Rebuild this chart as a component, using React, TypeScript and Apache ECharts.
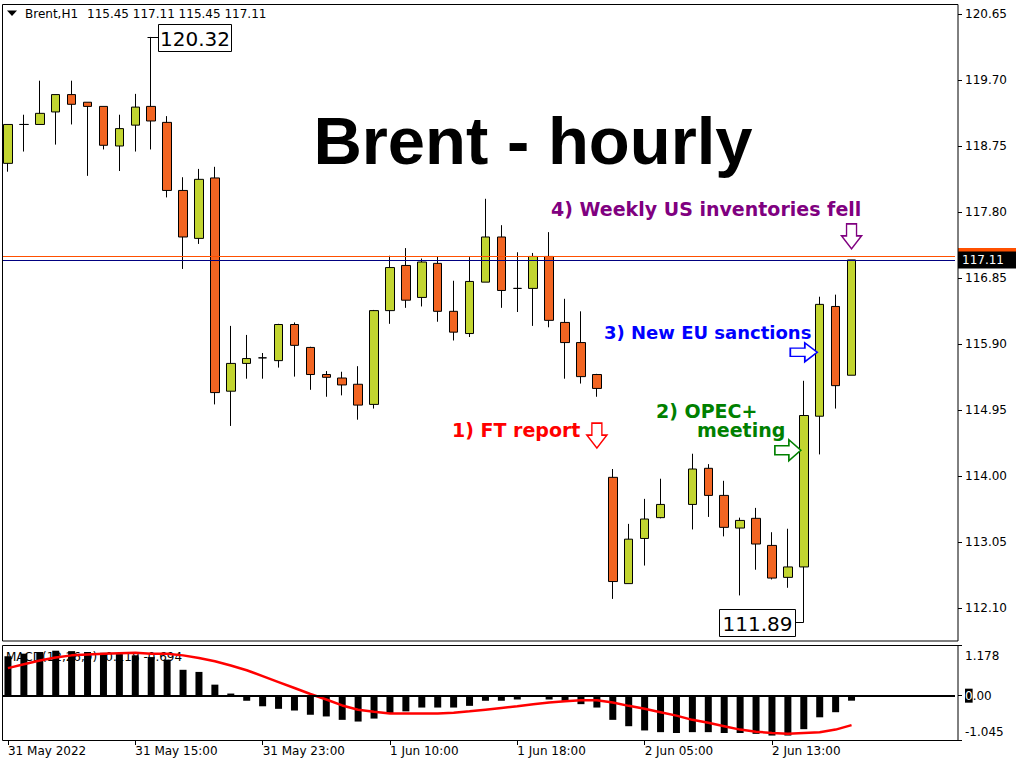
import React, { useEffect, useRef } from 'react';
import * as echarts from 'echarts';

const categories: string[] = [
  '31 May 07:00', '31 May 08:00', '31 May 09:00', '31 May 10:00', '31 May 11:00', '31 May 12:00',
  '31 May 13:00', '31 May 14:00', '31 May 15:00', '31 May 16:00', '31 May 17:00', '31 May 18:00',
  '31 May 19:00', '31 May 20:00', '31 May 21:00', '31 May 22:00', '31 May 23:00',
  '1 Jun 03:00', '1 Jun 04:00', '1 Jun 05:00', '1 Jun 06:00', '1 Jun 07:00', '1 Jun 08:00',
  '1 Jun 09:00', '1 Jun 10:00', '1 Jun 11:00', '1 Jun 12:00', '1 Jun 13:00', '1 Jun 14:00',
  '1 Jun 15:00', '1 Jun 16:00', '1 Jun 17:00', '1 Jun 18:00', '1 Jun 19:00', '1 Jun 20:00',
  '1 Jun 21:00', '1 Jun 22:00', '1 Jun 23:00',
  '2 Jun 03:00', '2 Jun 04:00', '2 Jun 05:00', '2 Jun 06:00', '2 Jun 07:00', '2 Jun 08:00',
  '2 Jun 09:00', '2 Jun 10:00', '2 Jun 11:00', '2 Jun 12:00', '2 Jun 13:00', '2 Jun 14:00',
  '2 Jun 15:00', '2 Jun 16:00', '2 Jun 17:00', '2 Jun 18:00',
  ' ', '  ', '   ', '    ', '     ', '      ',
];

const opens: (number | null)[] = [
  118.50, 119.06, 119.06, 119.24, 119.49, 119.38, 119.32, 118.75, 119.05, 119.32,
  119.09, 118.11, 117.42, 118.29, 115.22, 115.62, 115.70, 115.66, 116.18, 115.85,
  115.46, 115.41, 115.32, 115.03, 116.38, 117.03, 116.57, 117.06, 116.37, 116.05,
  116.79, 117.44, 116.70, 116.70, 117.16, 116.21, 115.92, 115.46, 113.98, 112.45,
  113.10, 113.40, null, 113.59, 114.11, 113.72, 113.25, 113.39, 113.00, 112.54,
  112.69, 114.86, 116.44, 115.45,
];
const highs: (number | null)[] = [
  119.06, 119.20, 119.69, 119.49, 119.69, 119.38, 119.32, 119.20, 119.50, 120.32,
  119.18, 118.30, 118.42, 118.45, 116.16, 116.03, 115.77, 116.19, 116.21, 115.86,
  115.51, 115.50, 115.58, 116.39, 117.17, 117.28, 117.13, 117.16, 116.81, 117.15,
  117.99, 117.61, 117.22, 117.21, 117.51, 116.55, 116.37, 115.47, 114.10, 113.31,
  113.67, 113.96, null, 114.32, 114.17, 113.93, 113.40, 113.54, 113.19, 113.24,
  115.37, 116.58, 116.61, 117.11,
];
const lows: (number | null)[] = [
  118.38, 118.67, 119.06, 118.77, 119.06, 118.32, 118.70, 118.39, 118.67, 118.70,
  118.01, 116.98, 117.34, 115.03, 114.72, 115.40, 115.40, 115.56, 115.43, 115.24,
  115.14, 115.16, 114.81, 114.97, 116.19, 116.42, 116.44, 116.22, 115.95, 116.00,
  116.79, 116.42, 116.36, 116.16, 116.14, 115.40, 115.33, 115.14, 112.23, 112.45,
  112.71, 113.39, null, 113.23, 113.41, 113.13, 112.28, 112.65, 112.51, 112.39,
  111.89, 114.31, 114.97, 115.45,
];
const closes: (number | null)[] = [
  119.06, 119.06, 119.22, 119.49, 119.35, 119.32, 118.76, 119.00, 119.31, 119.11,
  118.11, 117.44, 118.27, 115.20, 115.62, 115.69, 115.70, 116.18, 115.88, 115.46,
  115.42, 115.31, 115.02, 116.38, 117.00, 116.53, 117.08, 116.37, 116.07, 116.80,
  117.44, 116.67, 116.70, 117.16, 116.24, 115.92, 115.43, 115.26, 112.48, 113.09,
  113.38, 113.59, null, 114.10, 113.72, 113.26, 113.36, 113.02, 112.53, 112.69,
  114.87, 116.47, 115.30, 117.11,
];

const macdMain: number[] = [
  0.93, 0.99, 1.03, 1.06, 1.05, 1.03, 1.01, 0.98, 0.95, 0.91,
  0.85, 0.61, 0.56, 0.26, 0.05, -0.12, -0.25, -0.31, -0.35, -0.45,
  -0.49, -0.57, -0.61, -0.54, -0.41, -0.37, -0.28, -0.28, -0.28, -0.24,
  -0.12, -0.12, -0.09, -0.03, -0.09, -0.12, -0.20, -0.28, -0.57, -0.72,
  -0.82, -0.86, -0.88, -0.86, -0.86, -0.88, -0.88, -0.90, -0.94, -0.94,
  -0.79, -0.51, -0.39, -0.118,
];
const macdSignal: number[] = [
  0.65, 0.74, 0.83, 0.90, 0.95, 0.97, 0.99, 1.00, 1.01, 0.99,
  0.99, 0.95, 0.89, 0.81, 0.71, 0.60, 0.46, 0.32, 0.18, 0.04,
  -0.09, -0.23, -0.33, -0.38, -0.42, -0.42, -0.42, -0.42, -0.40, -0.37,
  -0.33, -0.29, -0.25, -0.20, -0.16, -0.13, -0.11, -0.11, -0.16, -0.24,
  -0.31, -0.39, -0.47, -0.57, -0.64, -0.72, -0.80, -0.85, -0.88, -0.90,
  -0.88, -0.86, -0.80, -0.694,
];

const priceTicks: number[] = [112.10, 113.05, 114.00, 114.95, 115.90, 116.85, 117.80, 118.75, 119.70, 120.65];
const macdTicks: number[] = [-1.045, 0, 1.178];
const xLabelFirst = '31 May 2022';
const bidPrice = 117.11;
const askPrice = 117.16;

const GREEN = '#c2d530';
const ORANGE = '#f26522';
const FONT = "'DejaVu Sans', Verdana, sans-serif";

const DOWN_ARROW = 'path://M5,0L15,0L15,12L20,12L10,25L0,12L5,12Z';
const RIGHT_ARROW = 'path://M0,6L14,6L14,0L26,10.5L14,21L14,15L0,15Z';

export default function App() {
  const ref = useRef<HTMLDivElement>(null);

  useEffect(() => {
    if (!ref.current) return;
    const chart = echarts.init(ref.current, null, { renderer: 'svg' });

    const ohlc = opens.map((o, i) =>
      o == null ? ['-', '-', '-', '-'] : [o, closes[i], lows[i], highs[i]]
    );
    const lastBar = opens.length - 1;
    const showTick = (idx: number) => idx % 8 === 0 && idx <= lastBar;

    const annot = (text: string, x: number, y: number, color: string, size: number) => ({
      type: 'text',
      x,
      y,
      z: 60,
      style: {
        text,
        fill: color,
        font: `bold ${size}px ${FONT}`,
        textAlign: 'left',
        textVerticalAlign: 'middle',
      },
    });

    const option: any = {
      animation: false,
      backgroundColor: '#ffffff',
      grid: [
        { left: -5, top: 4, width: 960, height: 637 },
        { left: -5, top: 645.7, width: 960, height: 94.3 },
      ],
      xAxis: [
        {
          gridIndex: 0,
          type: 'category',
          data: categories,
          axisLine: { show: false, onZero: false },
          axisTick: { show: false },
          axisLabel: { show: false },
          splitLine: { show: false },
        },
        {
          gridIndex: 1,
          type: 'category',
          data: categories,
          position: 'bottom',
          axisLine: { show: false, onZero: false },
          axisTick: {
            show: true,
            interval: showTick,
            alignWithLabel: true,
            length: 5,
            lineStyle: { color: '#000', width: 1 },
          },
          axisLabel: {
            interval: showTick,
            align: 'left',
            margin: 5,
            color: '#000',
            fontFamily: FONT,
            fontSize: 12,
            formatter: (v: string, idx: number) => (idx === 0 ? xLabelFirst : v.trim()),
          },
          splitLine: { show: false },
        },
      ],
      yAxis: [
        {
          gridIndex: 0,
          type: 'value',
          position: 'right',
          offset: 3,
          min: 111.624,
          max: 120.794,
          scale: true,
          splitLine: { show: false },
          axisLine: { show: false },
          axisTick: {
            show: true,
            length: 4,
            customValues: priceTicks,
            lineStyle: { color: '#000' },
          },
          axisLabel: {
            customValues: priceTicks,
            margin: 7,
            color: '#000',
            fontFamily: FONT,
            fontSize: 12,
            formatter: (v: number) => v.toFixed(2),
          },
        },
        {
          gridIndex: 1,
          type: 'value',
          position: 'right',
          offset: 3,
          min: -1.045,
          max: 1.178,
          splitLine: { show: false },
          axisLine: { show: false },
          axisTick: {
            show: true,
            length: 4,
            customValues: macdTicks,
            lineStyle: { color: '#000' },
          },
          axisLabel: {
            customValues: macdTicks,
            margin: 7,
            color: '#000',
            fontFamily: FONT,
            fontSize: 12,
            formatter: (v: number) => {
              if (Math.abs(v) < 1e-9) return '{b|0}{n|.00}';
              if (v > 0) return '{t|' + v.toFixed(3) + '}';
              return '{u|' + v.toFixed(3) + '}';
            },
            rich: {
              b: { backgroundColor: '#000', color: '#fff', fontFamily: FONT, fontSize: 12, padding: [1, 0, 1, 0] },
              n: { color: '#000', fontFamily: FONT, fontSize: 12 },
              t: { color: '#000', fontFamily: FONT, fontSize: 12, padding: [20, 0, 0, 0] },
              u: { color: '#000', fontFamily: FONT, fontSize: 12, padding: [0, 0, 16, 0] },
            },
          },
        },
      ],
      series: [
        {
          type: 'candlestick',
          xAxisIndex: 0,
          yAxisIndex: 0,
          data: ohlc,
          barWidth: 9,
          itemStyle: {
            color: GREEN,
            color0: ORANGE,
            borderColor: '#000',
            borderColor0: '#000',
            borderColorDoji: '#000',
            borderWidth: 1,
          },
          markLine: {
            silent: true,
            symbol: ['none', 'none'],
            animation: false,
            data: [
              {
                yAxis: askPrice,
                lineStyle: { color: '#ff5000', width: 1, type: 'solid' },
                label: {
                  show: true,
                  position: 'end',
                  distance: 3,
                  formatter: ' ',
                  backgroundColor: '#ff5000',
                  width: 50,
                  height: 13,
                  lineHeight: 13,
                  fontSize: 12,
                  padding: [2, 4, 2, 4],
                },
              },
              {
                yAxis: bidPrice,
                lineStyle: { color: '#000080', width: 1, type: 'solid' },
                label: {
                  show: true,
                  position: 'end',
                  distance: 3,
                  formatter: bidPrice.toFixed(2),
                  backgroundColor: '#000',
                  color: '#fff',
                  fontFamily: FONT,
                  fontSize: 12,
                  width: 50,
                  height: 13,
                  lineHeight: 13,
                  padding: [2, 4, 2, 4],
                },
              },
            ],
          },
          markPoint: {
            silent: true,
            symbolKeepAspect: false,
            label: { show: false },
            data: [
              {
                coord: [categories[53], 117.45],
                symbol: DOWN_ARROW,
                symbolSize: [20, 25],
                itemStyle: { color: '#fff', borderColor: '#800080', borderWidth: 1.5 },
              },
              {
                coord: [categories[37], 114.58],
                symbol: DOWN_ARROW,
                symbolSize: [20, 25],
                itemStyle: { color: '#fff', borderColor: '#ff0000', borderWidth: 1.5 },
              },
              {
                coord: [categories[49], 114.37],
                symbol: RIGHT_ARROW,
                symbolSize: [26, 21],
                itemStyle: { color: '#fff', borderColor: '#008000', borderWidth: 1.5 },
              },
              {
                coord: [categories[50], 115.78],
                symbol: RIGHT_ARROW,
                symbolSize: [27, 19],
                itemStyle: { color: '#fff', borderColor: '#0000ff', borderWidth: 1.5 },
              },
            ],
          },
        },
        {
          type: 'bar',
          xAxisIndex: 1,
          yAxisIndex: 1,
          data: macdMain,
          barWidth: 7,
          itemStyle: { color: '#000' },
          z: 2,
          markLine: {
            silent: true,
            symbol: ['none', 'none'],
            animation: false,
            label: { show: false },
            lineStyle: { color: '#000', width: 2, type: 'solid' },
            data: [{ yAxis: 0 }],
          },
        },
        {
          type: 'line',
          xAxisIndex: 1,
          yAxisIndex: 1,
          data: macdSignal,
          symbol: 'none',
          lineStyle: { color: '#ff0000', width: 2.5 },
          itemStyle: { color: '#ff0000' },
          z: 3,
        },
      ],
      graphic: [
        { type: 'rect', z: 50, shape: { x: 0, y: 0, width: 2, height: 768 }, style: { fill: '#fff' } },
        {
          type: 'rect', z: 51,
          shape: { x: 2.5, y: 4.5, width: 955.5, height: 636.5 },
          style: { fill: 'none', stroke: '#000', lineWidth: 1 },
        },
        {
          type: 'rect', z: 51,
          shape: { x: 2.5, y: 645.5, width: 955.5, height: 95 },
          style: { fill: 'none', stroke: '#000', lineWidth: 1 },
        },
        {
          type: 'polygon', z: 60,
          shape: { points: [[7, 10.5], [17, 10.5], [12, 16]] },
          style: { fill: '#000' },
        },
        {
          type: 'text', x: 25, y: 14, z: 60,
          style: { text: 'Brent,H1', fill: '#000', font: `12px ${FONT}`, textAlign: 'left', textVerticalAlign: 'middle' },
        },
        {
          type: 'text', x: 87, y: 14, z: 60,
          style: { text: '115.45 117.11 115.45 117.11', fill: '#000', font: `12px ${FONT}`, textAlign: 'left', textVerticalAlign: 'middle' },
        },
        {
          type: 'text', x: 533, y: 140, z: 60,
          style: {
            text: 'Brent - hourly', fill: '#000',
            font: "bold 67px 'Liberation Sans', Arial, sans-serif",
            textAlign: 'center', textVerticalAlign: 'middle',
          },
        },
        annot('4) Weekly US inventories fell', 551, 209, '#800080', 19),
        annot('3) New EU sanctions', 604, 332, '#0000ff', 18),
        annot('2) OPEC+', 656, 411, '#008000', 19),
        annot('meeting', 697, 430, '#008000', 19),
        annot('1) FT report', 452, 430, '#ff0000', 19),
        // high label
        {
          type: 'line', z: 60,
          shape: { x1: 147.5, y1: 37.5, x2: 158.5, y2: 37.5 },
          style: { stroke: '#000', lineWidth: 1 },
        },
        {
          type: 'rect', z: 60,
          shape: { x: 158.5, y: 24.5, width: 73, height: 27 },
          style: { fill: '#fff', stroke: '#000', lineWidth: 1 },
        },
        {
          type: 'text', x: 195, y: 38.5, z: 61,
          style: { text: '120.32', fill: '#000', font: `20px ${FONT}`, textAlign: 'center', textVerticalAlign: 'middle' },
        },
        // low label
        {
          type: 'line', z: 60,
          shape: { x1: 795.5, y1: 622.5, x2: 803.5, y2: 622.5 },
          style: { stroke: '#000', lineWidth: 1 },
        },
        {
          type: 'rect', z: 60,
          shape: { x: 719.5, y: 609.5, width: 76, height: 27 },
          style: { fill: '#fff', stroke: '#000', lineWidth: 1 },
        },
        {
          type: 'text', x: 757.5, y: 623.5, z: 61,
          style: { text: '111.89', fill: '#000', font: `20px ${FONT}`, textAlign: 'center', textVerticalAlign: 'middle' },
        },
        {
          type: 'text', x: 6, y: 657, z: 1,
          style: { text: 'MACD(12,26,9) -0.118 -0.694', fill: '#000', font: `12px ${FONT}`, textAlign: 'left', textVerticalAlign: 'middle' },
        },
      ],
    };

    chart.setOption(option);
    return () => chart.dispose();
  }, []);

  return (
    <div
      ref={ref}
      style={{ position: 'absolute', left: 0, top: 0, width: 1024, height: 768, background: '#fff' }}
    />
  );
}
